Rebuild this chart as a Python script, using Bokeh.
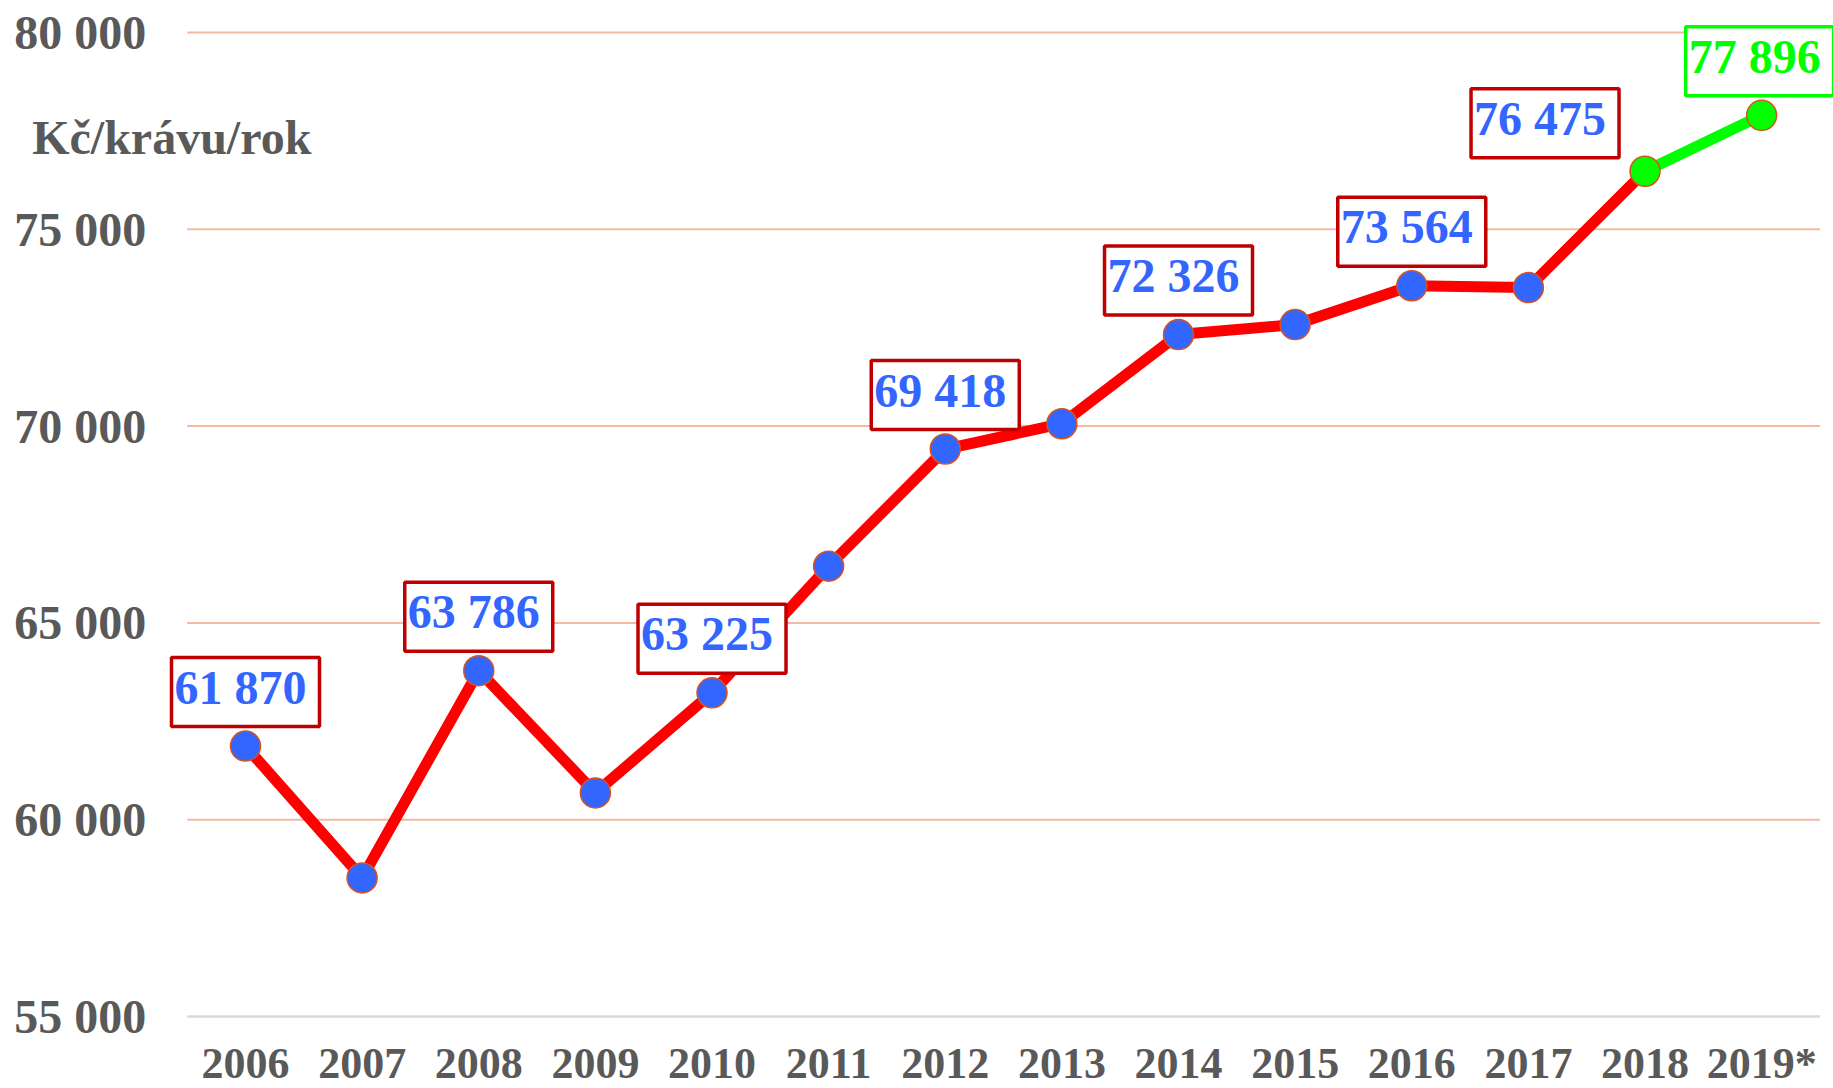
from bokeh.plotting import figure
from bokeh.models import ColumnDataSource, Range1d
from bokeh.core.properties import value
from bokeh.embed import file_html
from bokeh.resources import INLINE

years = ["2006", "2007", "2008", "2009", "2010", "2011", "2012",
         "2013", "2014", "2015", "2016", "2017", "2018", "2019*"]
costs = [61870, 58520, 63786, 60680, 63225, 66440, 69418,
         70060, 72326, 72580, 73564, 73520, 76475, 77896]
y_ticks = [55000, 60000, 65000, 70000, 75000, 80000]
labeled_years = ["2006", "2008", "2010", "2012", "2014", "2016", "2018", "2019*"]
unit_title = "Kč/krávu/rok"

def fmt(v):
    return f"{v:,}".replace(",", " ")

FONT = "Liberation Serif"
GRAY = "#595959"
BLUE = "#3366FF"
RED = "#FF0000"
GREEN = "#00FF00"
DARKRED = "#C00000"

n = len(years)
idx = list(range(n))

# frame covers the whole figure; scales chosen so that the layout matches
p = figure(width=1833, height=1088,
           x_range=Range1d(-2.1007, 13.616), y_range=Range1d(53171, 80813),
           output_backend="svg", toolbar_location=None,
           min_border=0, min_border_left=0, min_border_right=0,
           min_border_top=0, min_border_bottom=0)
p.outline_line_color = None
p.background_fill_color = "white"
p.xaxis.visible = False
p.yaxis.visible = False
p.xgrid.visible = False
p.ygrid.visible = False

x_lo, x_hi = -0.5, n - 0.5

# horizontal grid lines (salmon) and base axis line (gray)
gt = y_ticks[1:]
p.segment(x0=[x_lo] * len(gt), x1=[x_hi] * len(gt), y0=gt, y1=gt,
          line_color="#F4B9A0", line_width=2, level="underlay")
p.segment(x0=[x_lo], x1=[x_hi], y0=[y_ticks[0]], y1=[y_ticks[0]],
          line_color="#D9D9D9", line_width=2.5, level="underlay")

# y tick labels
p.text(x=[x_lo] * len(y_ticks), y=y_ticks, text=[fmt(t) for t in y_ticks],
       x_offset=-41, text_align="right", text_baseline="middle",
       text_font=value(FONT), text_font_style="bold", text_font_size="48px",
       text_color=GRAY)

# x tick labels
p.text(x=idx, y=[y_ticks[0]] * n, text=years, y_offset=47,
       text_align="center", text_baseline="alphabetic",
       text_font=value(FONT), text_font_style="bold", text_font_size="44px",
       text_color=GRAY)

# unit title
p.text(x=[x_lo], y=[y_ticks[-1]], text=[unit_title], x_offset=-155, y_offset=105,
       text_align="left", text_baseline="alphabetic",
       text_font=value(FONT), text_font_style="bold", text_font_size="48px",
       text_color=GRAY)

# line segments
red_src = ColumnDataSource(dict(x=idx[:13], y=costs[:13]))
green_src = ColumnDataSource(dict(x=idx[12:], y=costs[12:]))
p.line("x", "y", source=red_src, line_color=RED, line_width=11, line_join="round")
p.line("x", "y", source=green_src, line_color=GREEN, line_width=11, line_join="round")

# markers
fills = [GREEN if i >= 12 else BLUE for i in idx]
pt_src = ColumnDataSource(dict(x=idx, y=costs, fill=fills))
p.scatter("x", "y", source=pt_src, size=30, fill_color="fill",
          line_color="#D9531E", line_width=1.5)

# value labels
lx, ly, lt, lc, lb, lxo, lyo = [], [], [], [], [], [], []
for yr in labeled_years:
    i = years.index(yr)
    lx.append(i)
    ly.append(costs[i])
    lt.append(fmt(costs[i]))
    green = i == n - 1
    lc.append(GREEN if green else BLUE)
    lb.append(GREEN if green else DARKRED)
    lxo.append(-100 if yr == "2018" else (-2 if green else 0))
    lyo.append(-48 if yr == "2018" else -54)
lab_src = ColumnDataSource(dict(x=lx, y=ly, t=lt, c=lc, b=lb, xo=lxo, yo=lyo))
p.text("x", "y", text="t", source=lab_src, x_offset="xo", y_offset="yo",
       text_color="c", text_font=value(FONT), text_font_style="bold",
       text_font_size="48px", text_align="center", text_baseline="middle",
       background_fill_color="white", border_line_color="b",
       border_line_width=3.5, padding=(3, 13, 3, 13))

open("out.html", "w").write(file_html(p, INLINE))
